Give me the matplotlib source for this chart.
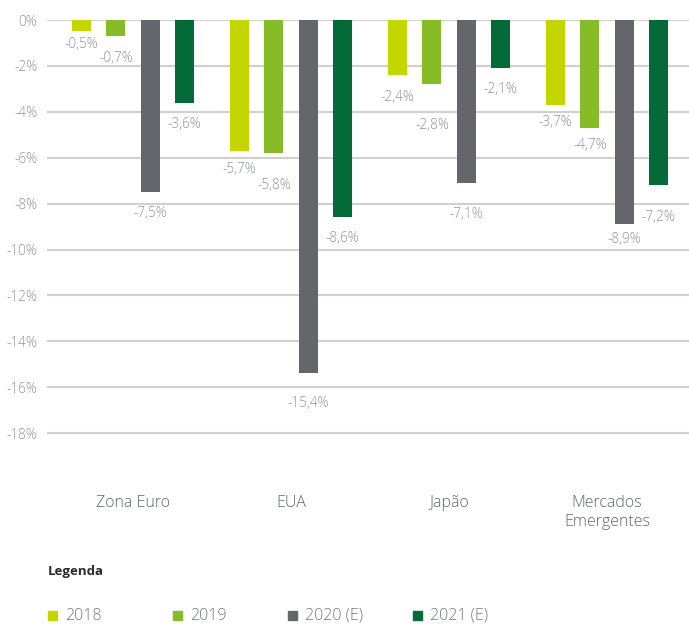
import matplotlib.pyplot as plt
from matplotlib.patches import Rectangle
import numpy as np

# ── Dados ───────────────────────────────────────────────────
CATEGORIES = ["Zona Euro", "EUA", "Japão", "Mercados\nEmergentes"]
SERIES     = ["2018", "2019", "2020 (E)", "2021 (E)"]
V_2018 = [-0.5, -5.7, -2.4, -3.7]
V_2019 = [-0.7, -5.8, -2.8, -4.7]
V_2020 = [-7.5, -15.4, -7.1, -8.9]
V_2021 = [-3.6, -8.6, -2.1, -7.2]
YTICKS = [0, -2, -4, -6, -8, -10, -12, -14, -16, -18]

# ── Estilo ──────────────────────────────────────────────────
COLORS = ["#C4D600", "#86BC25", "#63666A", "#046A38"]
# deslocamento vertical (px) de cada rótulo abaixo do fim da barra
LABEL_OFFSETS = [
    [13, 19, 22, 18],
    [22, 32, 41, 18],
    [21, 30, 32, 15],
    [22, 21, 21, 32],
]
plt.rcParams["font.family"] = ["Open Sans", "DejaVu Sans"]

W, H = 689, 626
fig = plt.figure(figsize=(W / 100, H / 100), dpi=100)
ax = fig.add_axes([47 / W, 1 - 479 / H, 1 - 47 / W, (479 - 20) / H])

values = [V_2018, V_2019, V_2020, V_2021]
x = np.arange(len(CATEGORIES))
step, width = 0.217, 0.12

for k, (vals, col) in enumerate(zip(values, COLORS)):
    pos = x + (k - 1.5) * step
    ax.bar(pos, vals, width=width, color=col, zorder=3)
    for xi, v, off in zip(pos, vals, LABEL_OFFSETS[k]):
        ax.annotate(f"{v:.1f}%".replace(".", ","), (xi, v),
                    xytext=(0, -off), textcoords="offset pixels",
                    ha="center", va="center", fontsize=9.8,
                    color="#939598", fontweight="light")

ax.set_ylim(-20, 0)
ax.set_xlim(-0.544, 3.519)
ax.set_yticks(YTICKS)
ax.set_yticklabels([f"{t}%" for t in YTICKS], fontsize=9.8,
                   color="#939598", fontweight="light")
ax.set_xticks(x)
ax.set_xticklabels(CATEGORIES, fontsize=11.5, color="#63666A",
                   fontweight="light", linespacing=1.25)
ax.tick_params(axis="y", length=0, pad=7)
ax.tick_params(axis="x", length=0, pad=11.5)
ax.grid(axis="y", color="#D0D0CE", linewidth=1.5, zorder=0)
for s in ax.spines.values():
    s.set_visible(False)

# ── Legenda ─────────────────────────────────────────────────
fig.text(48 / W, 1 - 572 / H, "Legenda", fontsize=9.5, fontweight="bold",
         color="#2B2B2B", va="center", ha="left")
legend_x = [48, 173, 288, 413]
for lx, name, col in zip(legend_x, SERIES, COLORS):
    fig.patches.append(Rectangle((lx / W, 1 - 620 / H), 9 / W, 9 / H,
                                 transform=fig.transFigure, color=col))
    fig.text((lx + 17) / W, 1 - 616 / H, name, fontsize=11.5,
             color="#75787B", fontweight="light", va="center", ha="left")

fig.savefig("out.png", dpi=100)
